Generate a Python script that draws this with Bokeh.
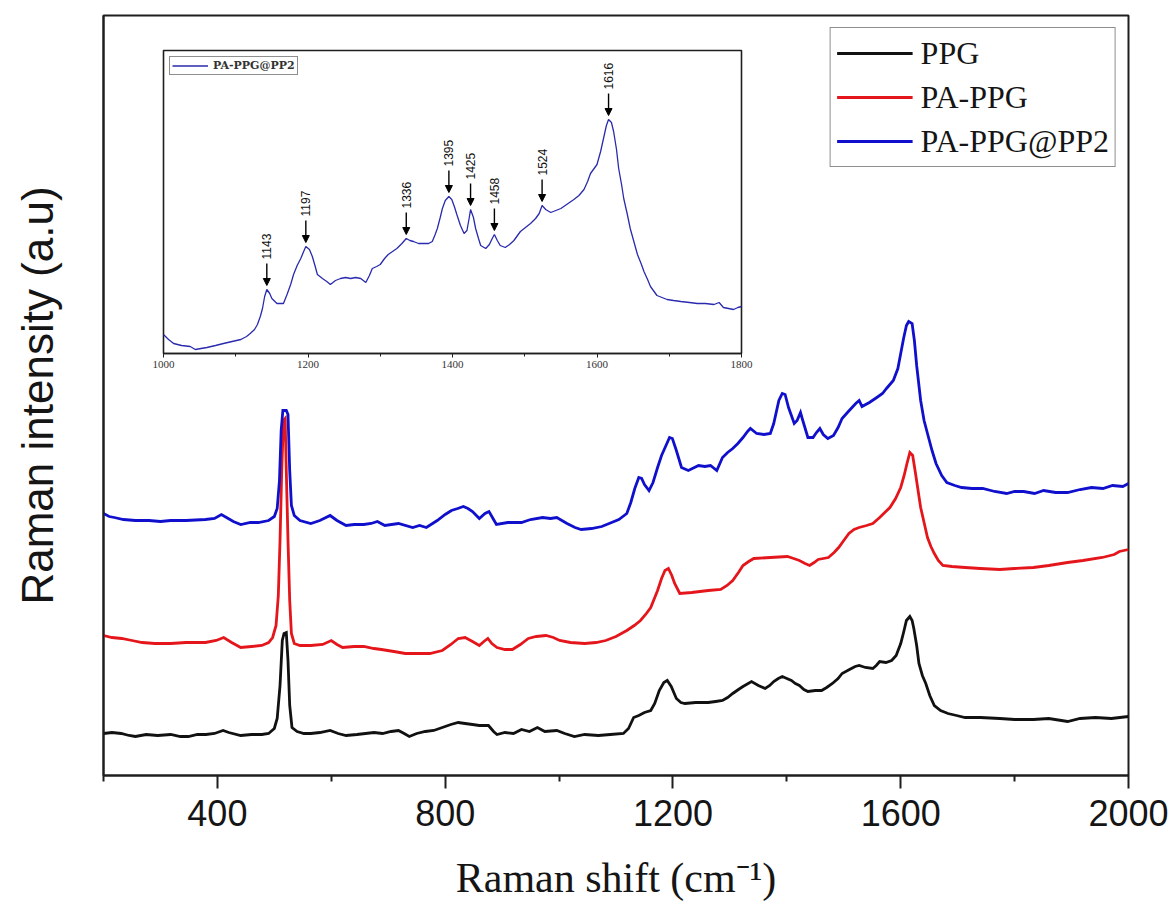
import math

from bokeh.core.properties import value
from bokeh.embed import file_html
from bokeh.models import (Arrow, ColumnDataSource, FixedTicker, Legend,
                          LegendItem, NormalHead, Range1d)
from bokeh.plotting import figure
from bokeh.resources import INLINE

# ---------------------------------------------------------------------------
# Raman spectra (offset-stacked, arbitrary units): (shift cm^-1, intensity)
# ---------------------------------------------------------------------------
ppg = [(200, 42), (215, 43), (231, 42), (245, 40), (256, 39), (275, 41), (295, 40),
       (318, 41), (335, 39), (349, 39), (365, 41), (380, 41), (395, 42), (410, 45),
       (420, 43), (441, 40), (460, 41), (478, 41), (490, 42), (500, 47), (505, 57),
       (510, 90), (514, 135), (517, 142), (521, 143), (524, 115), (527, 70), (531, 48),
       (540, 44), (552, 42), (564, 42), (580, 43), (598, 45), (612, 42), (626, 40),
       (645, 41), (660, 42), (675, 43), (690, 42), (705, 44), (718, 45), (728, 42),
       (737, 39), (750, 42), (765, 44), (780, 45), (795, 48), (810, 51), (823, 53),
       (835, 52), (848, 51), (860, 50), (876, 50), (885, 44), (891, 41), (905, 43),
       (920, 42), (934, 46), (948, 44), (962, 48), (975, 44), (996, 45), (1010, 42),
       (1027, 39), (1045, 41), (1069, 40), (1090, 41), (1113, 42), (1122, 47),
       (1131, 58), (1140, 60), (1150, 63), (1161, 65), (1168, 72), (1176, 85),
       (1184, 93), (1190, 95), (1197, 89), (1206, 77), (1214, 73), (1221, 72),
       (1240, 73), (1262, 73), (1275, 74), (1287, 75), (1296, 78), (1305, 82),
       (1315, 86), (1323, 89), (1338, 94), (1350, 90), (1362, 87), (1370, 90),
       (1377, 94), (1385, 97), (1392, 99), (1400, 97), (1408, 95), (1415, 92),
       (1422, 90), (1430, 86), (1437, 84), (1450, 85), (1461, 85), (1470, 88),
       (1480, 92), (1490, 97), (1497, 102), (1510, 106), (1520, 109), (1527, 110),
       (1538, 108), (1551, 107), (1557, 110), (1563, 114), (1574, 113), (1584, 115),
       (1592, 120), (1600, 132), (1605, 143), (1610, 155), (1616, 159), (1620, 155),
       (1623, 147), (1628, 130), (1632, 112), (1638, 100), (1644, 92), (1651, 80),
       (1659, 70), (1670, 65), (1683, 62), (1698, 60), (1713, 58), (1740, 58),
       (1774, 57), (1800, 56), (1833, 56), (1860, 57), (1893, 54), (1915, 57),
       (1942, 58), (1970, 57), (2000, 59)]

pa_ppg = [(200, 140), (215, 138), (232, 137), (250, 135), (268, 133), (290, 132),
          (318, 132), (345, 133), (379, 133), (398, 135), (411, 138), (425, 133),
          (441, 128), (460, 129), (478, 130), (490, 133), (497, 138), (503, 150),
          (507, 180), (510, 235), (513, 305), (516, 355), (519, 357), (521, 305),
          (524, 235), (527, 175), (530, 142), (535, 132), (545, 130), (564, 130),
          (585, 131), (600, 135), (610, 131), (620, 128), (640, 129), (657, 129),
          (675, 127), (688, 126), (710, 124), (730, 122), (750, 122), (773, 122),
          (795, 125), (810, 131), (823, 137), (835, 138), (848, 134), (860, 130),
          (868, 134), (875, 137), (882, 132), (891, 128), (905, 126), (918, 126),
          (932, 131), (946, 137), (960, 139), (977, 140), (990, 138), (1001, 135),
          (1020, 133), (1045, 132), (1065, 133), (1082, 135), (1100, 139), (1119, 145),
          (1132, 150), (1143, 155), (1152, 161), (1161, 168), (1173, 185), (1180, 197),
          (1186, 205), (1192, 207), (1198, 200), (1203, 192), (1212, 182), (1233, 183),
          (1262, 185), (1284, 186), (1295, 190), (1305, 195), (1315, 203), (1323, 210),
          (1333, 214), (1342, 217), (1371, 218), (1401, 219), (1412, 217), (1422, 215),
          (1432, 212), (1440, 210), (1448, 213), (1455, 216), (1473, 218), (1483, 223),
          (1491, 228), (1500, 235), (1509, 242), (1518, 246), (1527, 248), (1540, 250),
          (1551, 252), (1563, 258), (1572, 263), (1581, 268), (1591, 277), (1600, 288),
          (1606, 300), (1611, 312), (1616, 323), (1621, 320), (1626, 302), (1631, 283),
          (1635, 268), (1641, 253), (1647, 238), (1653, 229), (1659, 222), (1666, 215),
          (1674, 210), (1690, 209), (1713, 208), (1740, 207), (1774, 206), (1800, 207),
          (1833, 208), (1860, 210), (1893, 213), (1920, 215), (1954, 218), (1975, 221),
          (1984, 224), (2000, 226)]

pa_ppg_pp2 = [(200, 262), (210, 259), (219, 258), (235, 256), (256, 255), (280, 255),
              (300, 254), (318, 255), (345, 255), (379, 256), (395, 257), (407, 261),
              (416, 258), (428, 254), (441, 251), (458, 253), (472, 253), (490, 255),
              (500, 259), (505, 267), (509, 295), (512, 345), (515, 365), (521, 365),
              (524, 361), (527, 305), (530, 270), (535, 260), (545, 255), (564, 252),
              (580, 255), (598, 260), (610, 255), (626, 250), (640, 251), (657, 251),
              (670, 252), (681, 254), (694, 250), (718, 252), (743, 248), (755, 250),
              (767, 248), (786, 255), (800, 261), (811, 265), (822, 267), (832, 269),
              (840, 267), (848, 264), (860, 257), (870, 262), (877, 264), (884, 257),
              (890, 251), (910, 253), (934, 253), (950, 256), (971, 258), (985, 257),
              (996, 258), (1014, 252), (1028, 248), (1039, 246), (1057, 247), (1075, 249),
              (1088, 252), (1105, 256), (1119, 262), (1126, 273), (1133, 287), (1140, 298),
              (1145, 297), (1150, 291), (1158, 285), (1165, 293), (1173, 308), (1180, 320),
              (1187, 329), (1194, 338), (1199, 337), (1206, 325), (1215, 308), (1227, 305),
              (1245, 310), (1256, 309), (1266, 310), (1277, 305), (1287, 318), (1296, 323),
              (1305, 327), (1314, 332), (1323, 338), (1331, 344), (1336, 347), (1347, 342),
              (1360, 341), (1371, 342), (1377, 352), (1386, 375), (1392, 382), (1397, 381),
              (1403, 368), (1413, 352), (1418, 355), (1424, 363), (1428, 355), (1437, 338),
              (1446, 338), (1452, 343), (1458, 347), (1464, 341), (1472, 337), (1482, 340),
              (1490, 348), (1497, 357), (1508, 364), (1521, 372), (1527, 375), (1532, 369),
              (1545, 373), (1558, 378), (1568, 382), (1575, 387), (1587, 395), (1595, 407),
              (1600, 422), (1605, 437), (1610, 450), (1614, 454), (1620, 452), (1624, 435),
              (1628, 410), (1635, 375), (1641, 355), (1647, 342), (1655, 325), (1662, 312),
              (1672, 300), (1681, 293), (1695, 290), (1707, 288), (1725, 287), (1744, 287),
              (1765, 284), (1786, 282), (1800, 284), (1816, 284), (1835, 282), (1851, 285),
              (1872, 283), (1893, 283), (1915, 286), (1935, 288), (1955, 287), (1972, 290),
              (1990, 289), (2000, 292)]

# Enlarged PA-PPG@PP2 spectrum for the 1000-1800 cm^-1 window
inset_spec = [(1000, 19), (1007, 14), (1014, 10), (1025, 8), (1037, 7), (1044, 4),
              (1052, 5), (1060, 6), (1072, 8), (1083, 10), (1095, 12), (1107, 14),
              (1115, 17), (1120, 20), (1126, 24), (1130, 29), (1134, 37), (1137, 45),
              (1140, 57), (1143, 64), (1147, 60), (1150, 55), (1157, 50), (1166, 50),
              (1171, 59), (1176, 69), (1180, 79), (1185, 88), (1190, 95), (1194, 102),
              (1197, 107), (1202, 104), (1206, 97), (1210, 87), (1213, 79), (1220, 75),
              (1226, 72), (1231, 69), (1238, 73), (1245, 75), (1252, 76), (1259, 75),
              (1266, 76), (1273, 75), (1280, 71), (1285, 78), (1289, 85), (1295, 87),
              (1300, 89), (1306, 95), (1311, 99), (1317, 102), (1323, 105), (1330, 110),
              (1336, 115), (1341, 113), (1346, 112), (1353, 110), (1360, 110), (1367, 110),
              (1372, 112), (1376, 119), (1379, 125), (1383, 136), (1386, 145), (1390, 153),
              (1395, 157), (1399, 154), (1403, 146), (1406, 139), (1411, 128), (1416, 120),
              (1420, 123), (1423, 135), (1425, 144), (1429, 136), (1432, 125), (1436, 115),
              (1439, 108), (1446, 105), (1451, 109), (1455, 115), (1458, 119), (1462, 113),
              (1466, 108), (1473, 106), (1479, 109), (1485, 113), (1494, 122), (1501, 126),
              (1508, 130), (1515, 135), (1520, 140), (1524, 148), (1529, 144), (1536, 141),
              (1543, 143), (1550, 145), (1560, 150), (1568, 154), (1575, 158), (1582, 164),
              (1587, 172), (1591, 180), (1596, 185), (1600, 189), (1605, 202), (1609, 215),
              (1613, 228), (1616, 234), (1620, 231), (1623, 222), (1627, 204), (1630, 185),
              (1634, 169), (1637, 155), (1642, 139), (1646, 125), (1651, 112), (1656, 99),
              (1661, 90), (1665, 82), (1670, 74), (1674, 67), (1679, 62), (1683, 58),
              (1690, 56), (1697, 54), (1706, 53), (1716, 52), (1728, 51), (1739, 50),
              (1750, 50), (1762, 49), (1769, 51), (1775, 46), (1782, 45), (1789, 44),
              (1795, 46), (1800, 47)]

# Assigned band positions (cm^-1) marked in the enlarged view
peak_positions = [1143, 1197, 1336, 1395, 1425, 1458, 1524, 1616]

series_labels = ["PPG", "PA-PPG", "PA-PPG@PP2"]
main_ticks = [400, 800, 1200, 1600, 2000]
main_minor = [200, 600, 1000, 1400, 1800]
inset_ticks = [1000, 1200, 1400, 1600, 1800]
inset_minor = [1100, 1300, 1500, 1700]

BLACK = "#111111"
RED = "#e4161b"
BLUE = "#1010cc"
INSET_BLUE = "#2a2aae"
FRAME = "#1e1e1e"
SANS = "Liberation Sans, Arial, sans-serif"
SERIF = "Liberation Serif, Times New Roman, serif"


def cols(pairs):
    return [a for a, _ in pairs], [b for _, b in pairs]


# ---------------------------------------------------------------------------
# Main plot
# ---------------------------------------------------------------------------
p = figure(frame_width=1025, frame_height=760,
           x_range=Range1d(200, 2000), y_range=Range1d(0, 760),
           min_border_left=103, min_border_right=48,
           min_border_top=15, min_border_bottom=132,
           output_backend="svg", toolbar_location=None)
p.grid.visible = False
p.background_fill_color = "white"
p.border_fill_color = "white"
p.outline_line_color = FRAME
p.outline_line_width = 2

renderers = []
for pairs, color in ((ppg, BLACK), (pa_ppg, RED), (pa_ppg_pp2, BLUE)):
    xs, ys = cols(pairs)
    renderers.append(p.line(xs, ys, line_color=color, line_width=2.8,
                            line_join="miter"))

# x axis
xa = p.xaxis[0]
xa.ticker = FixedTicker(ticks=main_ticks, minor_ticks=main_minor)
xa.axis_line_color = FRAME
xa.axis_line_width = 2
xa.major_tick_line_color = FRAME
xa.major_tick_line_width = 2
xa.major_tick_in = 0
xa.major_tick_out = 13
xa.minor_tick_line_color = FRAME
xa.minor_tick_line_width = 2
xa.minor_tick_in = 0
xa.minor_tick_out = 6
xa.major_label_text_font = SANS
xa.major_label_text_font_size = "36px"
xa.major_label_text_color = "#151515"
xa.major_label_standoff = 11
xa.axis_label = "Raman shift (cm\u207b\u00b9)"
xa.axis_label_text_font = SERIF
xa.axis_label_text_font_size = "42px"
xa.axis_label_text_font_style = "normal"
xa.axis_label_text_color = "#151515"
xa.axis_label_standoff = 26

# y axis: label only
ya = p.yaxis[0]
ya.ticker = FixedTicker(ticks=[])
ya.axis_line_color = FRAME
ya.axis_line_width = 2
ya.major_tick_line_color = None
ya.minor_tick_line_color = None
ya.axis_label = "Raman intensity (a.u)"
ya.axis_label_text_font = SANS
ya.axis_label_text_font_size = "44px"
ya.axis_label_text_font_style = "normal"
ya.axis_label_text_color = "#151515"
ya.axis_label_standoff = 42

legend = Legend(
    items=[LegendItem(label=lab, renderers=[r]) for lab, r in zip(series_labels, renderers)],
    location="top_right", margin=12, padding=6, spacing=6,
    glyph_width=76, glyph_height=38, label_height=38, label_standoff=8,
    label_text_font=SERIF, label_text_font_size="32px", label_text_color="#151515",
    border_line_color=FRAME, border_line_width=1.5,
    background_fill_color="white", background_fill_alpha=1.0,
)
p.add_layout(legend)

# ---------------------------------------------------------------------------
# Inset: enlarged 1000-1800 cm^-1 region of PA-PPG@PP2
# ---------------------------------------------------------------------------
ins = figure(frame_width=578, frame_height=303,
             x_range=Range1d(1000, 1800), y_range=Range1d(0, 303),
             min_border_left=30, min_border_right=20,
             min_border_top=10, min_border_bottom=26,
             output_backend="svg", toolbar_location=None)
ins.styles = {"position": "absolute", "left": "133px", "top": "40px", "z-index": "2"}
ins.grid.visible = False
ins.background_fill_color = "white"
ins.border_fill_alpha = 0
ins.outline_line_color = FRAME
ins.outline_line_width = 1.6
ins.yaxis.visible = False

ix, iy = cols(inset_spec)
r_in = ins.line(ix, iy, line_color=INSET_BLUE, line_width=1.3)

ia = ins.xaxis[0]
ia.ticker = FixedTicker(ticks=inset_ticks, minor_ticks=inset_minor)
ia.axis_line_color = FRAME
ia.axis_line_width = 1.6
ia.major_tick_line_color = FRAME
ia.major_tick_in = 0
ia.major_tick_out = 4
ia.minor_tick_line_color = FRAME
ia.minor_tick_in = 0
ia.minor_tick_out = 3
ia.major_label_text_font = SERIF
ia.major_label_text_font_size = "11px"
ia.major_label_text_color = "#333333"
ia.major_label_standoff = 3

# arrows and labels at the assigned bands
intensity_at = dict(inset_spec)
tip = [intensity_at[x] + 4 for x in peak_positions]
tail = [t + 22 for t in tip]
ann = ColumnDataSource(dict(x=peak_positions, y0=tail, y1=tip,
                            ty=[t + 4 for t in tail],
                            txt=[str(x) for x in peak_positions]))
ins.add_layout(Arrow(end=NormalHead(size=7, fill_color="black", line_color="black"),
                     x_start="x", y_start="y0", x_end="x", y_end="y1",
                     line_color="black", line_width=1.4, source=ann))
ins.text(x="x", y="ty", text="txt", source=ann, angle=math.pi / 2,
         text_font=value("Liberation Sans"), text_font_size="12px",
         text_color="#111111", text_align="left", text_baseline="middle")

ins_legend = Legend(
    items=[LegendItem(label="PA-PPG@PP2", renderers=[r_in])],
    location="top_left", margin=6, padding=2, spacing=0,
    glyph_width=36, glyph_height=13, label_height=13, label_standoff=5,
    label_text_font="DejaVu Serif", label_text_font_size="11px",
    label_text_font_style="bold", label_text_color="#333333",
    border_line_color=FRAME, border_line_width=1.5,
    background_fill_color="white",
)
ins.add_layout(ins_legend)

with open("out.html", "w") as f:
    f.write(file_html([p, ins], INLINE, title="Raman spectra"))
